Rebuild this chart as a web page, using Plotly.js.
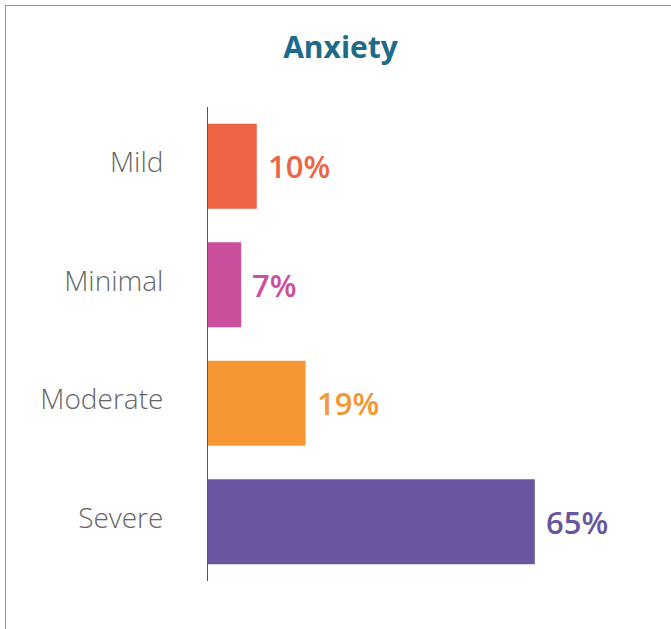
<!DOCTYPE html>
<html>
<head>
<meta charset="utf-8">
<script src="https://cdn.plot.ly/plotly-3.0.1.min.js"></script>
<style>
html,body{margin:0;padding:0;background:#fff;}
#frame{position:absolute;left:5px;top:5px;width:700px;height:700px;border-left:1.5px solid #999;border-top:1.5px solid #999;pointer-events:none;z-index:2;}
#chart{position:absolute;left:0;top:0;width:671px;height:629px;z-index:1;}
</style>
</head>
<body>
<div id="frame"></div>
<div id="chart"></div>
<script>
var categories = ["Mild", "Minimal", "Moderate", "Severe"];
var values = [9.7, 6.6, 19.4, 65.0];
var valueLabels = ["10%", "7%", "19%", "65%"];
var colors = ["#ee6344", "#cc4f9d", "#f39633", "#6a55a0"];
var titleText = "Anxiety";

var trace = {
  type: "bar",
  orientation: "h",
  y: categories,
  x: values,
  marker: {color: colors},
  hoverinfo: "none"
};

var annotations = categories.map(function(c, i){
  return {
    x: values[i], y: c, xref: "x", yref: "y",
    text: valueLabels[i], showarrow: false,
    xanchor: "left", yanchor: "middle", xshift: 9,
    font: {family: "Open Sans", size: 31, color: colors[i], weight: 600}
  };
});

var layout = {
  width: 671, height: 629,
  margin: {l: 208, r: 11, t: 107, b: 48},
  paper_bgcolor: "rgba(0,0,0,0)",
  plot_bgcolor: "rgba(0,0,0,0)",
  showlegend: false,
  bargap: 0.283,
  title: {
    text: titleText,
    x: 0.5075, xanchor: "center",
    y: 0.924, yanchor: "middle",
    font: {family: "Open Sans", size: 30, color: "#1d6a8a", weight: 700}
  },
  xaxis: {
    range: [0, 89.9],
    showgrid: false, zeroline: false, showline: false,
    showticklabels: false, ticks: ""
  },
  yaxis: {
    type: "category",
    autorange: "reversed",
    showgrid: false, zeroline: false,
    showline: true, linecolor: "#555", linewidth: 1,
    ticks: "",
    ticklabelstandoff: 38,
    ticklabelshift: 4,
    tickfont: {family: "Open Sans", size: 28, color: "#666", weight: 300}
  },
  annotations: annotations
};

Plotly.newPlot("chart", [trace], layout, {staticPlot: true, displayModeBar: false});
</script>
</body>
</html>
